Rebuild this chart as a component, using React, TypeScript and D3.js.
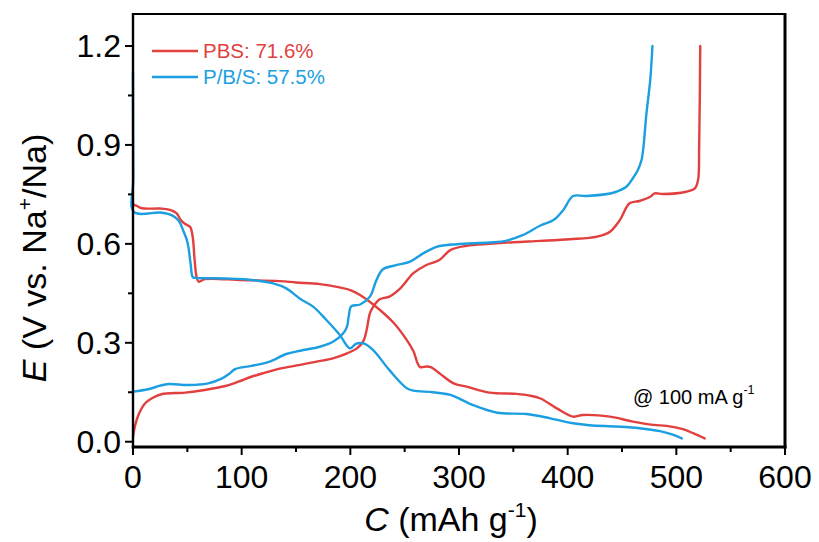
import React from "react";
import * as d3 from "d3";

// Galvanostatic charge/discharge profiles, [capacity (mAh g-1), potential (V)]
const pbsDischarge: [number, number][] = [
  [0, 0.72], [3, 0.716], [8, 0.708], [25, 0.707], [34, 0.703], [40, 0.693], [44, 0.672],
  [48, 0.66], [52.5, 0.652], [55, 0.62], [56.5, 0.56], [58.5, 0.5], [60.5, 0.485],
  [66, 0.493], [100, 0.49], [135, 0.487], [150, 0.483], [172, 0.478], [190, 0.468],
  [200, 0.46], [209, 0.445], [222, 0.414], [240, 0.36], [252, 0.308], [258, 0.275],
  [264, 0.227], [270, 0.228], [274, 0.226], [283, 0.205], [295, 0.177], [307, 0.167],
  [328, 0.149], [353, 0.145], [365, 0.14], [375, 0.131], [390, 0.101], [405, 0.076],
  [414, 0.081], [439, 0.076], [460, 0.061], [479, 0.051], [491, 0.048], [506, 0.038],
  [516, 0.025], [526, 0.01],
];

const pbsCharge: [number, number][] = [
  [0, 0.015], [2, 0.05], [5, 0.081], [11, 0.116], [17, 0.131], [26, 0.144], [48, 0.149],
  [66, 0.157], [85, 0.169], [97, 0.182], [109, 0.197], [121, 0.209], [134, 0.221],
  [154, 0.233], [169, 0.243], [184, 0.253], [197, 0.268], [206, 0.283], [212, 0.305],
  [215, 0.339], [218, 0.389], [221, 0.409], [227, 0.432], [236, 0.44], [246, 0.465],
  [258, 0.511], [270, 0.536], [282, 0.551], [292, 0.581], [307, 0.594], [328, 0.6],
  [350, 0.605], [375, 0.609], [402, 0.614], [427, 0.622], [439, 0.637], [448, 0.672],
  [457, 0.723], [466, 0.73], [476, 0.743], [480, 0.753], [488, 0.751], [509, 0.758],
  [517, 0.768], [520, 0.794], [521, 0.895], [522, 1.2],
];

const pbsSepDischarge: [number, number][] = [
  [0, 1.12], [0.3, 0.8], [0.8, 0.697], [25, 0.695], [33, 0.69], [39, 0.68], [43, 0.665],
  [46, 0.642], [49.5, 0.612], [51, 0.59], [53, 0.54], [55, 0.499], [57, 0.497],
  [85, 0.495], [105, 0.492], [129, 0.48], [141, 0.465], [154, 0.433], [166, 0.409],
  [178, 0.369], [190, 0.325], [199.7, 0.283], [205, 0.297], [212, 0.298], [221, 0.278],
  [236, 0.217], [252, 0.162], [258, 0.155], [276, 0.15], [292, 0.142], [313, 0.111],
  [335, 0.088], [362, 0.084], [384, 0.071], [405, 0.056], [420, 0.05], [445, 0.046],
  [466, 0.041], [485, 0.032], [496, 0.022], [505, 0.01],
];

const pbsSepCharge: [number, number][] = [
  [0, 0.152], [14, 0.159], [25, 0.17], [32.5, 0.175], [51, 0.172], [69, 0.177],
  [82, 0.192], [89, 0.207], [94, 0.22], [109, 0.23], [125, 0.242], [141, 0.266],
  [154, 0.276], [172, 0.288], [184, 0.303], [193.5, 0.329], [197, 0.35], [198.5, 0.38],
  [201, 0.411], [209, 0.416], [218, 0.44], [224, 0.49], [230, 0.523], [243, 0.536],
  [255, 0.546], [267, 0.571], [279.5, 0.591], [298, 0.599], [328, 0.604], [344, 0.61],
  [359, 0.627], [374.5, 0.655], [387, 0.672], [396, 0.703], [405, 0.745], [417, 0.745],
  [442, 0.755], [454, 0.773], [460, 0.799], [464, 0.82], [468, 0.854], [472.5, 0.996],
  [476, 1.097], [478, 1.2],
];

const seriesNames = ["PBS: 71.6%", "P/B/S: 57.5%"];
const seriesColors = ["#e23f3f", "#1c9fe0"];
const xMajorTicks = [0, 100, 200, 300, 400, 500, 600];
const xMinorTicks = [50, 150, 250, 350, 450, 550];
const yMajorTicks = [0, 0.3, 0.6, 0.9, 1.2];
const yMinorTicks = [0.15, 0.45, 0.75, 1.05];

const W = 819;
const H = 542;
const left = 133;
const right = 785;
const top = 14;
const bottom = 447;
const font = "Arial, 'Liberation Sans', Helvetica, sans-serif";

export default function App() {
  const x = d3.scaleLinear().domain([0, 600]).range([left, right]);
  const y = d3.scaleLinear().domain([-0.016, 1.297]).range([bottom, top]);
  const line = d3
    .line<[number, number]>()
    .x((d) => x(d[0]))
    .y((d) => y(d[1]))
    .curve(d3.curveCatmullRom.alpha(0.5));

  const curves = [
    { data: pbsDischarge, color: seriesColors[0] },
    { data: pbsCharge, color: seriesColors[0] },
    { data: pbsSepDischarge, color: seriesColors[1] },
    { data: pbsSepCharge, color: seriesColors[1] },
  ];

  return (
    <svg
      width={W}
      height={H}
      style={{ position: "absolute", left: 0, top: 0, background: "#fff" }}
      fontFamily={font}
    >
      <rect x={0} y={0} width={W} height={H} fill="#fff" />

      {/* curves */}
      <g fill="none" strokeWidth={2.4} strokeLinejoin="round" strokeLinecap="round">
        {curves.map((c, i) => (
          <path key={i} d={line(c.data) ?? ""} stroke={c.color} />
        ))}
      </g>

      {/* frame */}
      <g stroke="#000" fill="none">
        <line x1={left} x2={right} y1={top} y2={top} strokeWidth={2} />
        <line x1={right} x2={right} y1={top - 1} y2={bottom + 1.5} strokeWidth={3} />
        <line x1={left} x2={left} y1={top - 1} y2={bottom + 1.5} strokeWidth={2.4} />
        <line x1={left - 1.2} x2={right + 1.5} y1={bottom} y2={bottom} strokeWidth={3} />
      </g>

      {/* ticks */}
      <g stroke="#000" strokeWidth={2}>
        {xMajorTicks.map((t) => (
          <line key={"xM" + t} x1={x(t)} x2={x(t)} y1={bottom} y2={bottom + 8} />
        ))}
        {xMinorTicks.map((t) => (
          <line key={"xm" + t} x1={x(t)} x2={x(t)} y1={bottom} y2={bottom + 5} />
        ))}
        {yMajorTicks.map((t) => (
          <line key={"yM" + t} x1={left} x2={left - 8} y1={y(t)} y2={y(t)} />
        ))}
        {yMinorTicks.map((t) => (
          <line key={"ym" + t} x1={left} x2={left - 5} y1={y(t)} y2={y(t)} />
        ))}
      </g>

      {/* tick labels */}
      <g fontSize={32} fill="#000">
        {xMajorTicks.map((t) => (
          <text key={"xl" + t} x={x(t)} y={488} textAnchor="middle">
            {t}
          </text>
        ))}
        {yMajorTicks.map((t) => (
          <text key={"yl" + t} x={121} y={y(t) + 11.5} textAnchor="end">
            {d3.format(".1f")(t)}
          </text>
        ))}
      </g>

      {/* axis titles */}
      <text x={451} y={531} textAnchor="middle" fontSize={34} fill="#000">
        <tspan fontStyle="italic">C</tspan>
        <tspan> (mAh g</tspan>
        <tspan fontSize={21} dy={-14}>-1</tspan>
        <tspan dy={14}>)</tspan>
      </text>
      <text
        transform="translate(46,258) rotate(-90)"
        textAnchor="middle"
        fontSize={34}
        fill="#000"
      >
        <tspan fontStyle="italic">E</tspan>
        <tspan> (V vs. Na</tspan>
        <tspan fontSize={21} dy={-14}>+</tspan>
        <tspan dy={14}>/Na)</tspan>
      </text>

      {/* legend */}
      {seriesNames.map((name, i) => (
        <g key={name} transform={`translate(0,${51 + i * 26})`}>
          <line x1={152} x2={198} y1={0} y2={0} stroke={seriesColors[i]} strokeWidth={2.6} />
          <text x={203} y={7} fontSize={20.5} fill={seriesColors[i]}>
            {name}
          </text>
        </g>
      ))}

      {/* current density note */}
      <text x={633} y={404} fontSize={20} fill="#000">
        @ 100 mA g
        <tspan fontSize={12.5} dy={-10}>-1</tspan>
      </text>
    </svg>
  );
}
